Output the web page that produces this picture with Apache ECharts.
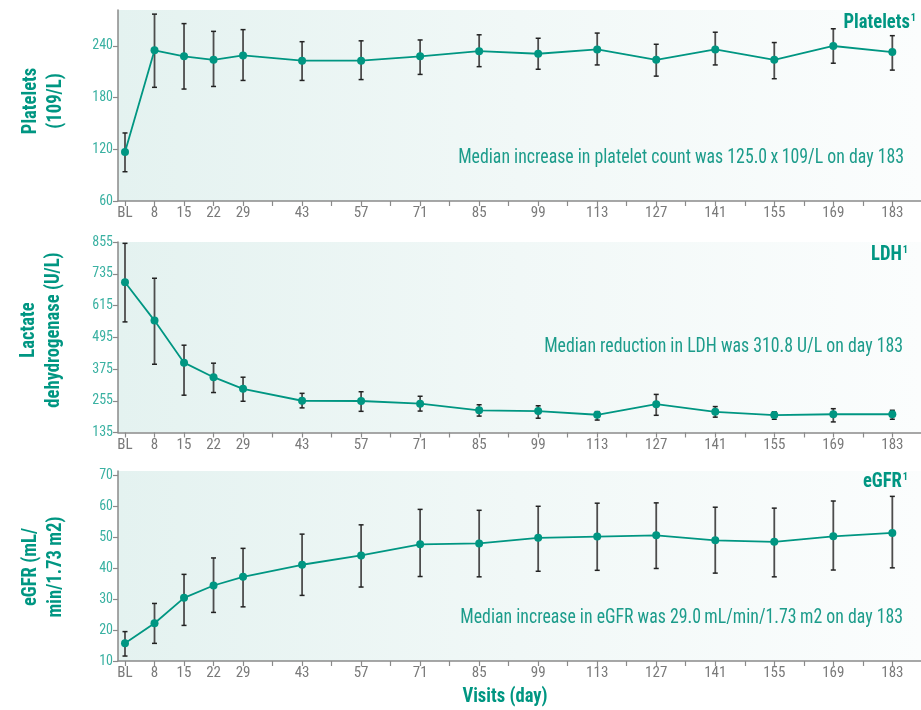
<!DOCTYPE html>
<html>
<head>
<meta charset="utf-8">
<script src="https://cdn.jsdelivr.net/npm/echarts@6/dist/echarts.min.js"></script>
<style>
html,body{margin:0;padding:0;background:#fff;}
#chart{width:921px;height:710px;}
</style>
</head>
<body>
<div id="chart"></div>
<script>
// ---- data ----
const days = [1, 8, 15, 22, 29, 43, 57, 71, 85, 99, 113, 127, 141, 155, 169, 183];
const xTickDays = [1, 8, 15, 22, 29, 36, 43, 50, 57, 64, 71, 78, 85, 92, 99, 106, 113, 120, 127, 134, 141, 148, 155, 162, 169, 176, 183];
const xLabelDays = [1, 8, 15, 22, 29, 43, 57, 71, 85, 99, 113, 127, 141, 155, 169, 183];

const plateletMean = [117, 235, 228, 224, 229, 223, 223, 228, 234, 231, 236, 224, 236, 224, 240, 233];
const plateletLow  = [94, 192, 190, 193, 200, 200, 201, 207, 216, 213, 218, 205, 218, 202, 220, 212];
const plateletHigh = [139, 277, 266, 257, 259, 245, 246, 247, 253, 249, 255, 242, 256, 244, 260, 252];
const plateletTicks = [60, 120, 180, 240];

const ldhMean = [703, 558, 399, 344, 300, 255, 254, 244, 219, 216, 202, 242, 213, 201, 204, 204];
const ldhLow  = [553, 393, 276, 286, 253, 228, 215, 216, 197, 189, 182, 200, 193, 185, 175, 185];
const ldhHigh = [850, 718, 465, 397, 344, 283, 289, 272, 240, 236, 214, 279, 233, 213, 225, 219];
const ldhTicks = [135, 255, 375, 495, 615, 735, 855];

const egfrMean = [15.7, 22.2, 30.4, 34.4, 37.2, 41.1, 44.1, 47.7, 48.0, 49.8, 50.2, 50.6, 49.0, 48.5, 50.3, 51.4];
const egfrLow  = [11.6, 15.7, 21.5, 25.7, 27.5, 31.2, 33.9, 37.3, 37.2, 39.0, 39.3, 39.9, 38.4, 37.2, 39.4, 40.1];
const egfrHigh = [19.5, 28.6, 38.0, 43.3, 46.4, 51.0, 54.0, 59.0, 58.7, 60.0, 61.0, 61.1, 59.7, 59.4, 61.7, 63.2];
const egfrTicks = [10, 20, 30, 40, 50, 60, 70];

const panelTitles = ['Platelets', 'LDH', 'eGFR'];
const yNames = [['Platelets', '(109/L)'], ['Lactate', 'dehydrogenase (U/L)'], ['eGFR (mL/', 'min/1.73 m2)']];
const notes = [
  'Median increase in platelet count was 125.0\u2009x\u2009109/L on day 183',
  'Median reduction in LDH was 310.8 U/L on day 183',
  'Median increase in eGFR was 29.0\u2009mL/min/1.73\u2009m2 on day 183'
];
const xName = 'Visits (day)';

// ---- chart ----
const FONT = '"Roboto Condensed", "DejaVu Sans Condensed", sans-serif';
const TEAL = '#009682';
const TEAL_TXT = '#1c9c8b';
const TEAL_LBL = '#3ab1a2';
const AXIS = '#8a8a8a';
const SX_REG = 0.89;
const SX_BOLD = 0.93;

const chart = echarts.init(document.getElementById('chart'));

const grids = [
  { left: 118, right: 0, top: 10, height: 191 },
  { left: 118, right: 0, top: 242, height: 190.5 },
  { left: 118, right: 0, top: 471, height: 190 }
];
const yRanges = [[60, 281.8], [135, 855], [10, 71.4]];
const yTicks = [plateletTicks, ldhTicks, egfrTicks];
const means = [plateletMean, ldhMean, egfrMean];
const lows = [plateletLow, ldhLow, egfrLow];
const highs = [plateletHigh, ldhHigh, egfrHigh];

function bg() {
  return new echarts.graphic.LinearGradient(0, 0, 1, 0, [
    { offset: 0, color: '#e4f2f0' },
    { offset: 0.5, color: '#f1f8f7' },
    { offset: 1, color: '#fbfdfd' }
  ]);
}

const option = {
  animation: false,
  backgroundColor: '#ffffff',
  grid: grids.map(g => Object.assign({ show: true, borderWidth: 0, backgroundColor: bg() }, g)),
  xAxis: grids.map((g, i) => ({
    type: 'value', gridIndex: i, min: -0.66, max: 189.8,
    axisLine: { show: true, onZero: false, lineStyle: { color: AXIS, width: 1.5 } },
    axisTick: { show: true, length: 5, customValues: xTickDays, lineStyle: { color: AXIS, width: 1.2 } },
    axisLabel: {
      customValues: xLabelDays, margin: 5, color: '#7a7a7a', fontFamily: FONT, fontSize: 15,
      formatter: v => (v === 1 ? 'BL' : String(v))
    },
    splitLine: { show: false }
  })),
  yAxis: grids.map((g, i) => ({
    type: 'value', gridIndex: i, min: yRanges[i][0], max: yRanges[i][1],
    axisLine: { show: true, onZero: false, lineStyle: { color: AXIS, width: 1.5 } },
    axisTick: { show: true, length: 5, customValues: yTicks[i], lineStyle: { color: AXIS, width: 1.2 } },
    axisLabel: { customValues: yTicks[i], margin: 5, color: TEAL_LBL, fontFamily: FONT, fontSize: 14 },
    splitLine: { show: false }
  })),
  series: [],
  graphic: []
};

for (let i = 0; i < 3; i++) {
  const errData = days.map((d, k) => [d, lows[i][k], highs[i][k]]);
  option.series.push({
    type: 'custom', xAxisIndex: i, yAxisIndex: i, z: 2,
    data: errData,
    renderItem: function (params, api) {
      const x = api.value(0);
      const lo = api.coord([x, api.value(1)]);
      const hi = api.coord([x, api.value(2)]);
      const cap = 2.5;
      const st = { stroke: '#4d4d4d', lineWidth: 1.8 };
      return {
        type: 'group', children: [
          { type: 'line', shape: { x1: hi[0], y1: hi[1], x2: lo[0], y2: lo[1] }, style: st },
          { type: 'line', shape: { x1: hi[0] - cap, y1: hi[1], x2: hi[0] + cap, y2: hi[1] }, style: { stroke: '#222', lineWidth: 1.5 } },
          { type: 'line', shape: { x1: lo[0] - cap, y1: lo[1], x2: lo[0] + cap, y2: lo[1] }, style: { stroke: '#222', lineWidth: 1.5 } }
        ]
      };
    }
  });
  option.series.push({
    type: 'line', xAxisIndex: i, yAxisIndex: i, z: 3,
    data: days.map((d, k) => [d, means[i][k]]),
    symbol: 'circle', symbolSize: 8,
    lineStyle: { color: TEAL, width: 1.8 },
    itemStyle: { color: TEAL }
  });
}

// y-axis names
const nameCenters = [[43, 101], [41, 330], [43, 567]];
for (let i = 0; i < 3; i++) {
  option.graphic.push({
    type: 'text', x: nameCenters[i][0], y: nameCenters[i][1], rotation: Math.PI / 2, scaleX: SX_BOLD,
    style: {
      text: yNames[i].join('\n'), fill: TEAL, font: 'bold 20px ' + FONT,
      align: 'center', verticalAlign: 'middle', lineHeight: 25
    }
  });
}
// panel titles
const titlePos = [[916, 23], [908, 255], [908, 482]];
for (let i = 0; i < 3; i++) {
  option.graphic.push({
    type: 'text', x: titlePos[i][0], y: titlePos[i][1], scaleX: SX_BOLD,
    style: {
      text: '{a|' + panelTitles[i] + '}{s|1}',
      align: 'right', verticalAlign: 'middle',
      rich: {
        a: { fill: TEAL, font: 'bold 20px ' + FONT },
        s: { fill: TEAL, font: 'bold 11px ' + FONT, verticalAlign: 'top', padding: [0, 0, 8, 1] }
      }
    }
  });
}
// notes
const notePos = [[904, 158], [903, 347], [903, 618]];
for (let i = 0; i < 3; i++) {
  option.graphic.push({
    type: 'text', x: notePos[i][0], y: notePos[i][1], scaleX: SX_REG,
    style: { text: notes[i], fill: TEAL_TXT, font: '20px ' + FONT, align: 'right', verticalAlign: 'middle' }
  });
}
option.graphic.push({
  type: 'text', x: 505, y: 697, scaleX: SX_BOLD,
  style: { text: xName, fill: TEAL, font: 'bold 20px ' + FONT, align: 'center', verticalAlign: 'middle' }
});

chart.setOption(option);
</script>
</body>
</html>
